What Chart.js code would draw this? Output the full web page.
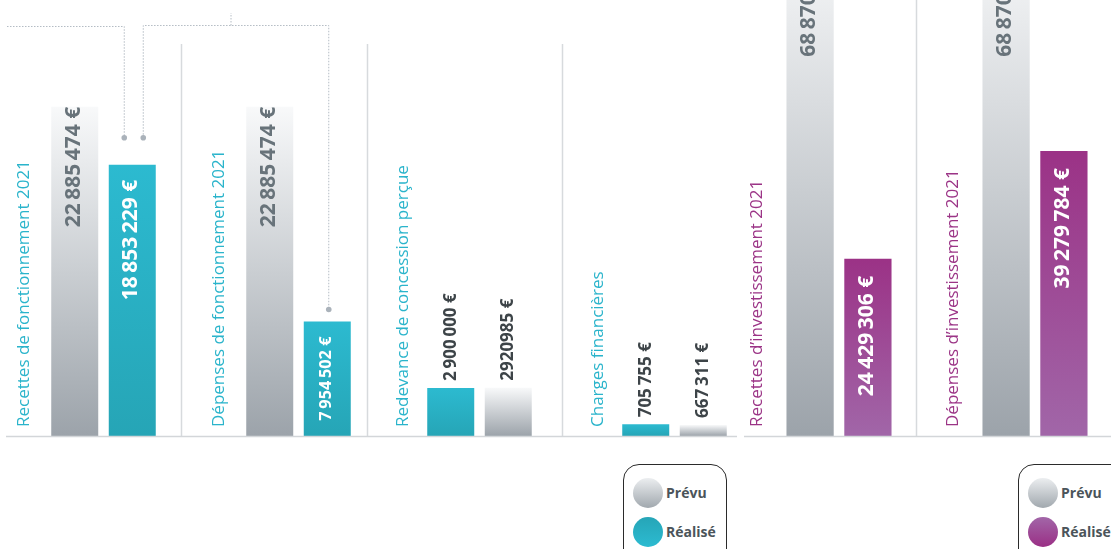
<!DOCTYPE html>
<html lang="fr">
<head>
  <meta charset="UTF-8">
  <title>Budget 2021 - prévu / réalisé</title>
  <script src="https://cdn.jsdelivr.net/npm/chart.js"></script>
  <style>
    body { margin: 0; width: 1111px; height: 549px; overflow: hidden; position: relative; background: #fff; font-family: 'Open Sans', sans-serif; }
    .panel { position: absolute; top: 0; height: 440px; overflow: hidden; }
    .panel canvas { position: absolute; top: 0; }
    .legend { position: absolute; top: 464px; height: 110px; border: 1.5px solid #2b2b2b; border-radius: 16px; box-sizing: border-box; }
    .legend div { position: absolute; left: 42px; font-weight: 700; font-size: 14px; color: #4b545a; line-height: 20px; }
    .legend span { position: absolute; left: -33px; top: -5px; width: 30px; height: 30px; border-radius: 50%; }
  </style>
</head>
<body>
  <div class="panel" style="left:0;width:360px"><canvas id="chartFonct" width="390" height="440" style="left:6px"></canvas></div>
  <div class="panel" style="left:360px;width:377px"><canvas id="chartAutres" width="412" height="440" style="left:0"></canvas></div>
  <div class="panel" style="left:744px;width:367px"><canvas id="chartInvest" width="392" height="440" style="left:-3px"></canvas></div>

  <div class="legend" style="left:623px;width:104px">
    <div style="top:18px"><span style="background:linear-gradient(#eceef0,#a1a8ae)"></span>Prévu</div>
    <div style="top:57px"><span style="background:linear-gradient(#26a5b7,#2cbbd1)"></span>Réalisé</div>
  </div>
  <div class="legend" style="left:1018px;width:120px">
    <div style="top:18px"><span style="background:linear-gradient(#eceef0,#a1a8ae)"></span>Prévu</div>
    <div style="top:57px"><span style="background:linear-gradient(#a266a8,#9a2f85)"></span>Réalisé</div>
  </div>

  <script>
    // fonctionnement
    const categoriesFonct = ['Recettes de fonctionnement 2021', 'Dépenses de fonctionnement 2021'];
    const prevuFonct = [22885474, 22885474];
    const realiseFonct = [18853229, 7954502];
    const prevuFonctLabels = ['22 885 474 €', '22 885 474 €'];
    const realiseFonctLabels = ['18 853 229 €', '7 954 502 €'];

    // redevance / charges (réalisé drawn first here)
    const categoriesAutres = ['Redevance de concession perçue', 'Charges financières'];
    const realiseAutres = [2900000, 705755];
    const prevuAutres = [2920985, 667311];
    const realiseAutresLabels = ['2 900 000 €', '705 755 €'];
    const prevuAutresLabels = ['2920985 €', '667 311 €'];

    // investissement (prévu is cut off at the top)
    const categoriesInvest = ['Recettes d’investissement 2021', 'Dépenses d’investissement 2021'];
    const prevuInvest = [68870000, 68870000];
    const realiseInvest = [24429306, 39279784];
    const prevuInvestLabels = ['68 870 000 €', '68 870 000 €'];
    const realiseInvestLabels = ['24 429 306 €', '39 279 784 €'];

    const FONT = "'Open Sans', sans-serif";
    const thin = s => s.replace(/(\d) (?=\d)/g, '$1\u2009');

    // vertical gradient per bar, from its own top down to the baseline
    function barGradient(top, bottom) {
      return function (c) {
        const chart = c.chart, area = chart.chartArea;
        if (!area || c.raw == null) return bottom;
        const y = chart.scales.y.getPixelForValue(c.raw);
        const g = chart.ctx.createLinearGradient(0, y, 0, area.bottom);
        g.addColorStop(0, top);
        g.addColorStop(1, bottom);
        return g;
      };
    }
    const grayBar = barGradient('#f8f9fa', '#9ca3aa');
    const cyanBar = barGradient('#2cbad0', '#26a5b6');
    const magentaBar = barGradient('#9b3286', '#a166a8');

    function rotText(ctx, text, x, y, align) {
      ctx.save();
      ctx.translate(x, y);
      ctx.rotate(-Math.PI / 2);
      ctx.textAlign = align;
      ctx.textBaseline = 'middle';
      ctx.fillText(text, 0, 0);
      ctx.restore();
    }

    const deco = {
      id: 'deco',
      afterDatasetsDraw(chart, args, o) {
        const ctx = chart.ctx, area = chart.chartArea, xs = chart.scales.x;

        // separators
        ctx.save();
        ctx.strokeStyle = '#d7dadd';
        ctx.lineWidth = 1.5;
        (o.separators || []).forEach(i => {
          const x = Math.round(xs.getPixelForValue(i) + o.sepOffset) + 0.5;
          ctx.beginPath();
          ctx.moveTo(x, o.sepTop);
          ctx.lineTo(x, area.bottom);
          ctx.stroke();
        });
        // baseline
        ctx.strokeStyle = '#d3d6d9';
        ctx.beginPath();
        ctx.moveTo(0, area.bottom + 0.5);
        ctx.lineTo(chart.width, area.bottom + 0.5);
        ctx.stroke();
        ctx.restore();

        // category labels
        ctx.save();
        ctx.fillStyle = o.labelColor;
        ctx.font = '17px ' + FONT;
        chart.data.labels.forEach((lab, i) => {
          rotText(ctx, lab, xs.getPixelForValue(i) + o.labelOffset, area.bottom - 9, 'left');
        });
        ctx.restore();

        // value labels
        chart.data.datasets.forEach((ds, d) => {
          const cfg = o.values[d];
          chart.getDatasetMeta(d).data.forEach((bar, i) => {
            const txt = thin(cfg.texts[i]);
            ctx.save();
            ctx.fillStyle = cfg.color;
            if (cfg.mode === 'above') {
              ctx.font = '700 17px ' + FONT;
              rotText(ctx, txt, bar.x, bar.y - 7, 'left');
            } else {
              let size = 21;
              ctx.font = '700 ' + size + 'px ' + FONT;
              const avail = (bar.base - bar.y) - 2 * 15;
              const w = ctx.measureText(txt).width;
              if (w > avail) {
                size = Math.max(11, size * avail / w);
                ctx.font = '700 ' + size.toFixed(1) + 'px ' + FONT;
              }
              rotText(ctx, txt, bar.x - 1, bar.y + cfg.pad, 'right');
            }
            ctx.restore();
          });
        });

        // dotted connectors
        if (o.connectors) {
          const r = chart.getDatasetMeta(1).data;
          const a = r[0], b = r[1];
          const x1 = a.x - 8, x2 = a.x + 11, yd = a.y - 27, x3 = b.x + 1.5, y3 = b.y - 12;
          ctx.save();
          ctx.strokeStyle = '#b4bcc4';
          ctx.lineWidth = 1;
          ctx.setLineDash([1.5, 1.5]);
          ctx.beginPath();
          ctx.moveTo(1, 26.5); ctx.lineTo(x1, 26.5); ctx.lineTo(x1, yd);
          ctx.moveTo(x2, yd); ctx.lineTo(x2, 25.5); ctx.lineTo(x3, 25.5); ctx.lineTo(x3, y3);
          const xm = (x2 + x3) / 2 - 5;
          ctx.moveTo(xm, 25.5); ctx.lineTo(xm, 13);
          ctx.stroke();
          ctx.setLineDash([]);
          ctx.fillStyle = '#aab2ba';
          [[x1, yd], [x2, yd], [x3, y3]].forEach(p => {
            ctx.beginPath();
            ctx.arc(p[0], p[1], 2.8, 0, Math.PI * 2);
            ctx.fill();
          });
          ctx.restore();
        }
      }
    };

    function makeChart(id, labels, datasets, yMax, decoOpts, padLeft) {
      return new Chart(document.getElementById(id), {
        type: 'bar',
        data: { labels: labels, datasets: datasets },
        options: {
          responsive: false,
          animation: false,
          layout: { padding: { bottom: 4, left: padLeft || 0 } },
          datasets: { bar: { categoryPercentage: 0.59, barPercentage: 0.817 } },
          scales: {
            x: { display: false },
            y: { display: false, min: 0, max: yMax }
          },
          plugins: {
            legend: { display: false },
            tooltip: { enabled: false },
            deco: decoOpts
          }
        },
        plugins: [deco]
      });
    }

    makeChart('chartFonct', categoriesFonct, [
      { label: 'Prévu', data: prevuFonct, backgroundColor: grayBar },
      { label: 'Réalisé', data: realiseFonct, backgroundColor: cyanBar }
    ], 30.3e6, {
      labelColor: '#2ab4cb', labelOffset: -79, separators: [1], sepOffset: -117.5, sepTop: 44,
      connectors: true,
      values: [
        { texts: prevuFonctLabels, color: '#68737a', pad: 0 },
        { texts: realiseFonctLabels, color: '#ffffff', pad: 15 }
      ]
    });

    makeChart('chartAutres', categoriesAutres, [
      { label: 'Réalisé', data: realiseAutres, backgroundColor: cyanBar },
      { label: 'Prévu', data: prevuAutres, backgroundColor: grayBar }
    ], 26.4e6, {
      labelColor: '#2ab4cb', labelOffset: -76, separators: [0, 1], sepOffset: -113, sepTop: 44,
      values: [
        { texts: realiseAutresLabels, color: '#3d4448', mode: 'above' },
        { texts: prevuAutresLabels, color: '#3d4448', mode: 'above' }
      ]
    }, 22);

    makeChart('chartInvest', categoriesInvest, [
      { label: 'Prévu', data: prevuInvest, backgroundColor: grayBar },
      { label: 'Réalisé', data: realiseInvest, backgroundColor: magentaBar }
    ], 60.1e6, {
      labelColor: '#9b3486', labelOffset: -82, separators: [1], sepOffset: -119, sepTop: 0,
      values: [
        { texts: prevuInvestLabels, color: '#68737a', pad: 0 },
        { texts: realiseInvestLabels, color: '#ffffff', pad: 17 }
      ]
    });
  </script>
</body>
</html>
